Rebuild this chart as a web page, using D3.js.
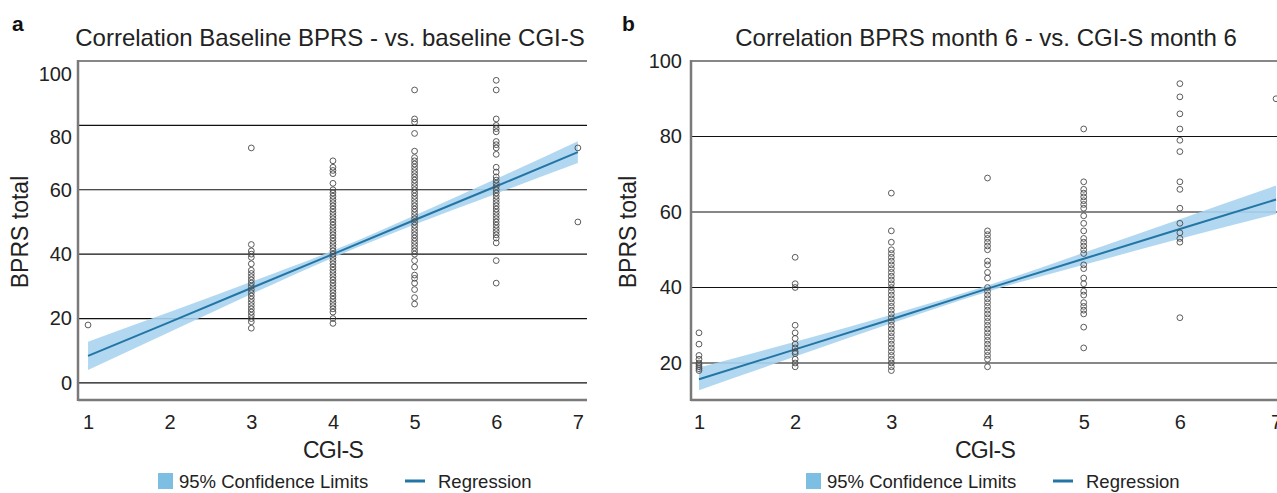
<!DOCTYPE html>
<html>
<head>
<meta charset="utf-8">
<script src="https://cdn.jsdelivr.net/npm/d3@7"></script>
<style>
  body { margin: 0; background: #fff; }
  text { font-family: "Liberation Sans", Arial, sans-serif; }
</style>
</head>
<body>
<div id="chart"></div>
<script>
// CGI-S levels used for the fitted line and the confidence band
const cgiLevels = [1, 2, 3, 4, 5, 6, 7];

// panel a: baseline BPRS total, grouped by baseline CGI-S
const baselinePoints = [
  [1, [18]],
  [3, [73, 43, 41, 40, 39, 37, 35, 34, 33, 32, 31, 30, 29, 28, 27, 26, 25, 24, 23, 22, 21, 20, 19, 17]],
  [4, [69, 67, 66, 65, 62, 60, 59, 58, 57, 56, 55, 54, 53, 52, 51, 50, 49, 48, 47, 46, 45, 44, 43, 42, 41, 40,
       39, 38, 37, 36, 35, 34, 33, 32, 31, 30, 29, 28, 27, 26, 25, 24, 23, 22, 20, 18.5]],
  [5, [91, 82, 81, 77.5, 72, 70, 69, 68, 67, 66, 65, 64, 63, 62, 61, 60, 59, 58, 57, 56, 55, 54, 53, 52, 51, 50,
       49, 48, 47, 46, 45, 44, 43, 42, 41, 40, 38, 36, 33.5, 32.5, 31, 29, 26.5, 24.5]],
  [6, [94, 91, 82, 80, 79, 78, 75, 74, 73, 71, 67, 65.5, 64, 63, 62, 61, 60, 59, 58, 57, 56, 55, 54, 53, 52, 51,
       50, 49, 48, 47, 46, 45, 43.5, 38, 31]],
  [7, [73, 50]]
];
const baselineFit = [8.4, 18.9, 29.5, 40.0, 50.6, 61.1, 71.7];
const baselineLower = [4.0, 15.8, 27.6, 38.9, 49.2, 58.8, 68.3];
const baselineUpper = [12.8, 22.0, 31.4, 41.1, 52.0, 63.4, 75.1];

// panel b: BPRS total at month 6, grouped by CGI-S at month 6
const month6Points = [
  [1, [28, 25, 22, 21, 20, 19.5, 19, 18.5, 18]],
  [2, [48, 41, 40, 30, 28, 26.5, 25, 24, 23, 22.5, 21, 20, 19]],
  [3, [65, 55, 52, 50, 49, 48, 47, 46, 45, 44, 43, 42, 41, 40, 39, 38, 37, 36, 35, 34, 33, 32, 31, 30, 29, 28,
       27, 26, 25, 24, 23, 22, 21, 20, 19, 18]],
  [4, [69, 55, 54, 53, 52, 51, 50, 47, 46, 44, 42.5, 40, 39, 38, 37, 36, 35, 34, 33, 32, 31, 30, 29, 28, 27, 26,
       25, 24, 23, 22, 21, 19]],
  [5, [82, 68, 66, 65, 64, 63, 62, 61, 59, 57, 55, 53, 52, 51, 50, 49, 46, 45, 42.5, 41, 39, 38, 36, 35, 34, 33, 29.5, 24]],
  [6, [94, 90.5, 86, 82, 79, 76, 68, 66, 61, 57, 54.5, 53, 52, 32]],
  [7, [90]]
];
const month6Fit = [15.7, 23.6, 31.6, 39.7, 47.6, 55.5, 63.3];
const month6Lower = [12.8, 21.7, 30.5, 38.9, 46.0, 52.9, 59.5];
const month6Upper = [18.8, 25.6, 32.8, 40.5, 49.2, 58.1, 67.0];

const yTicksA = [0, 20, 40, 60, 80, 100];
const yTicksB = [20, 40, 60, 80, 100];

const W = 1277, H = 493;
const bandColor = "#a9d4ee", legendSwatch = "#7dbfe2", lineColor = "#2375a5";

const svg = d3.select("#chart").append("svg")
  .attr("width", W).attr("height", H);

function drawPanel(opt) {
  const x = d3.scaleLinear().domain(opt.xDomain).range([opt.left, opt.right]);
  const y = d3.scaleLinear().domain(opt.yDomain).range([400, 61]);
  const g = svg.append("g");

  // horizontal gridlines
  g.selectAll("line.grid")
    .data(opt.yTicks)
    .join("line")
      .attr("x1", opt.left).attr("x2", opt.right)
      .attr("y1", d => y(d)).attr("y2", d => y(d))
      .attr("stroke", "#111").attr("stroke-width", 1.2);

  // y axis labels (the original has the top two labels of panel a sitting a bit low)
  const yAxis = g.append("g")
    .attr("transform", `translate(${opt.left},0)`)
    .call(d3.axisLeft(y).tickValues(opt.yTicks).tickSize(0).tickPadding(opt.yPad));
  yAxis.select(".domain").remove();
  yAxis.selectAll("text").attr("font-size", 20).attr("fill", "#222")
    .attr("transform", d => `translate(0,${opt.labelShift[d] || 0})`)
    .style("font-family", "Liberation Sans, Arial, sans-serif");

  // x axis labels
  const xAxis = g.append("g")
    .attr("transform", "translate(0,400)")
    .call(d3.axisBottom(x).tickValues(cgiLevels).tickFormat(d3.format("d")).tickSize(0).tickPadding(15));
  xAxis.select(".domain").remove();
  xAxis.selectAll("text").attr("font-size", 20).attr("fill", "#222")
    .style("font-family", "Liberation Sans, Arial, sans-serif");

  // confidence band
  const area = d3.area()
    .x((d, i) => x(cgiLevels[i]))
    .y0((d, i) => y(opt.lower[i]))
    .y1((d, i) => y(opt.upper[i]))
    .curve(d3.curveMonotoneX);
  g.append("path").datum(opt.lower).attr("d", area)
    .attr("fill", bandColor).attr("opacity", 0.9);

  // regression line
  const line = d3.line().x((d, i) => x(cgiLevels[i])).y(d => y(d));
  g.append("path").datum(opt.fit).attr("d", line)
    .attr("fill", "none").attr("stroke", lineColor).attr("stroke-width", 2);

  // scatter points
  const pts = opt.points.flatMap(([c, vals]) => vals.map(v => ({c, v})));
  g.selectAll("circle.pt")
    .data(pts)
    .join("circle")
      .attr("cx", d => x(d.c)).attr("cy", d => y(d.v)).attr("r", 2.9)
      .attr("fill", "none").attr("stroke", "#4a4a4a").attr("stroke-width", 0.9);

  // frame: gray left and bottom axis lines
  g.append("line").attr("x1", opt.left).attr("x2", opt.left).attr("y1", 60).attr("y2", 401)
    .attr("stroke", "#7a7a7a").attr("stroke-width", 2.5);
  g.append("line").attr("x1", opt.left).attr("x2", opt.right).attr("y1", 400).attr("y2", 400)
    .attr("stroke", "#7a7a7a").attr("stroke-width", 2.5);

  // titles
  g.append("text").attr("x", opt.titleX).attr("y", 46).attr("text-anchor", "middle")
    .attr("font-size", 24).attr("fill", "#222").text(opt.title);
  g.append("text").attr("x", opt.letterX).attr("y", 31)
    .attr("font-size", 21).attr("font-weight", "bold").attr("fill", "#111").text(opt.letter);
  g.append("text").attr("transform", `translate(${opt.yLabelX},232) rotate(-90)`)
    .attr("text-anchor", "middle").attr("font-size", 23).attr("fill", "#222").text("BPRS total");
  g.append("text").attr("x", opt.xLabelX).attr("y", 458).attr("text-anchor", "middle")
    .attr("font-size", 23).attr("fill", "#222").style("letter-spacing", "-0.8px").text("CGI-S");

  // legend
  const lg = g.append("g").attr("transform", `translate(${opt.legendX},481)`);
  lg.append("rect").attr("x", 0).attr("y", -8).attr("width", 15).attr("height", 16).attr("fill", legendSwatch);
  lg.append("text").attr("x", 21).attr("y", 7).attr("font-size", 18.5).attr("fill", "#222").text("95% Confidence Limits");
  lg.append("line").attr("x1", 247).attr("x2", 267).attr("y1", 0).attr("y2", 0)
    .attr("stroke", lineColor).attr("stroke-width", 3);
  lg.append("text").attr("x", 280).attr("y", 7).attr("font-size", 18.5).attr("fill", "#222").text("Regression");
}

drawPanel({
  left: 78, right: 587, xDomain: [0.877, 7.112], yDomain: [-5.3, 100], yTicks: yTicksA, yPad: 6,
  labelShift: {80: 12, 100: 13},
  points: baselinePoints, fit: baselineFit, lower: baselineLower, upper: baselineUpper,
  title: "Correlation Baseline BPRS - vs. baseline CGI-S", titleX: 330, letter: "a", letterX: 12,
  yLabelX: 28, xLabelX: 333, legendX: 158
});

drawPanel({
  left: 691, right: 1290, xDomain: [0.917, 7.145], yDomain: [10.2, 100], yTicks: yTicksB, yPad: 9,
  labelShift: {},
  points: month6Points, fit: month6Fit, lower: month6Lower, upper: month6Upper,
  title: "Correlation BPRS month 6 - vs. CGI-S month 6", titleX: 986, letter: "b", letterX: 622,
  yLabelX: 636, xLabelX: 985, legendX: 806
});
</script>
</body>
</html>
